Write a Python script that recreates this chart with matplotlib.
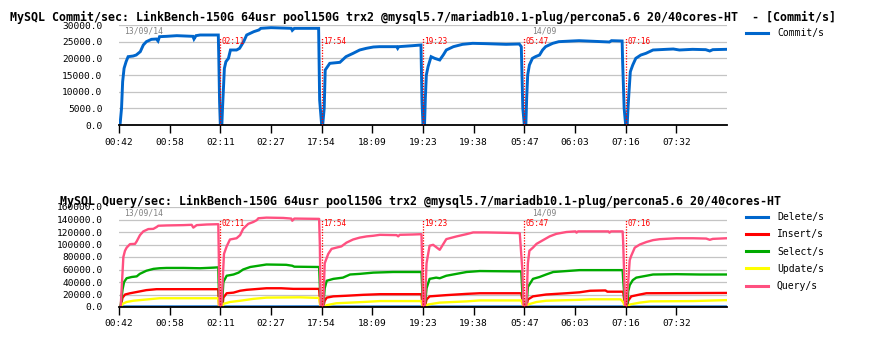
import matplotlib
matplotlib.use("Agg")
import matplotlib.pyplot as plt
import matplotlib.transforms as mtransforms
from matplotlib.ticker import FormatStrFormatter

plt.rcParams['font.family'] = ['DejaVu Sans Mono']

# x axis is made of 6 runs glued together, every run spans two tick slots
tick_labels = ["00:42", "00:58", "02:11", "02:27", "17:54", "18:09",
               "19:23", "19:38", "05:47", "06:03", "07:16", "07:32"]
run_labels = ["02:11", "17:54", "19:23", "05:47", "07:16"]
run_pos = [2, 4, 6, 8, 10]
date_labels = ["13/09/14", "14/09"]
date_pos = [0.1, 8.15]

title_top = ("MySQL Commit/sec: LinkBench-150G 64usr pool150G trx2 "
             "@mysql5.7/mariadb10.1-plug/percona5.6 20/40cores-HT  - [Commit/s]")
title_bot = ("MySQL Query/sec: LinkBench-150G 64usr pool150G trx2 "
             "@mysql5.7/mariadb10.1-plug/percona5.6 20/40cores-HT")

# Commit/s
commit_x = [0, 0.02, 0.05, 0.072, 0.10, 0.14, 0.18, 0.28, 0.34, 0.42, 0.48, 0.54, 0.64, 0.74,
            0.77, 0.80, 0.94, 1.14, 1.46, 1.48, 1.52, 1.60, 1.96, 1.97, 1.985,
            2.0, 2.03, 2.04, 2.08, 2.11, 2.16, 2.2, 2.32, 2.38, 2.46, 2.52, 2.66, 2.76, 2.8,
            3.0, 3.4, 3.42, 3.46, 3.94, 3.96,
            4.0, 4.02, 4.05, 4.07, 4.16, 4.36, 4.48, 4.62, 4.75, 4.88, 5.02, 5.14, 5.48, 5.50,
            5.52, 5.8, 5.96, 5.98,
            6.0, 6.03, 6.046, 6.066, 6.1, 6.16, 6.23, 6.33, 6.4, 6.46, 6.6, 6.78, 6.98, 7.25,
            7.64, 7.9, 7.94, 7.97,
            8.0, 8.03, 8.046, 8.066, 8.1, 8.16, 8.22, 8.3, 8.36, 8.42, 8.56, 8.68, 8.94, 9.08,
            9.68, 9.72, 9.93, 9.94, 9.97,
            10.0, 10.03, 10.046, 10.066, 10.092, 10.14, 10.2, 10.3, 10.4, 10.54, 10.8, 10.94,
            11.06, 11.32, 11.58, 11.66, 11.72, 11.98]
commit_y = [0, 0, 5000, 13000, 17000, 19000, 20500, 20700, 21000, 22000, 24000, 25000, 25700, 25800,
            25200, 26500, 26600, 26800, 26600, 25800, 26800, 27000, 27000, 20000, 7000,
            0, 0, 4000, 17000, 19000, 20000, 22500, 22500, 23000, 25000, 27000, 28000, 28500, 29000,
            29200, 29000, 28400, 29000, 29000, 7500,
            0, 0, 5000, 16500, 18500, 18800, 20500, 21500, 22500, 23000, 23400, 23500, 23500, 23000,
            23500, 23800, 24000, 7000,
            0, 0, 8000, 15000, 17500, 20500, 20000, 19500, 21000, 22500, 23500, 24200, 24500, 24400,
            24200, 24300, 23500, 5000,
            0, 0, 8000, 15000, 18000, 20000, 20500, 21000, 22500, 23500, 24500, 25000, 25200, 25300,
            24900, 25300, 25200, 19000, 5000,
            0, 0, 5000, 10000, 16000, 18000, 20000, 21000, 21500, 22500, 22700, 22800,
            22500, 22700, 22600, 22200, 22600, 22700]

# Query/s
query_x = [0, 0.033, 0.053, 0.086, 0.118, 0.151, 0.217, 0.316, 0.349, 0.414, 0.48, 0.579, 0.678,
           0.743, 0.776, 0.941, 1.27, 1.434, 1.467, 1.533, 1.73, 1.96, 1.974, 1.987,
           2.0, 2.02, 2.033, 2.072, 2.125, 2.19, 2.32, 2.39, 2.45, 2.55, 2.65, 2.72, 2.75, 2.91,
           3.24, 3.40, 3.42, 3.46, 3.95, 3.964, 3.98,
           4.0, 4.03, 4.06, 4.13, 4.195, 4.29, 4.39, 4.49, 4.62, 4.75, 4.89, 5.02, 5.15, 5.48,
           5.51, 5.54, 5.8, 5.97, 5.99,
           6.0, 6.035, 6.07, 6.13, 6.2, 6.33, 6.46, 6.66, 6.86, 6.99, 7.25, 7.65, 7.91, 7.96, 7.985,
           8.0, 8.04, 8.07, 8.1, 8.17, 8.24, 8.37, 8.5, 8.63, 8.83, 9.01, 9.03, 9.06, 9.66, 9.68,
           9.71, 9.94, 9.95, 9.99,
           10.0, 10.01, 10.05, 10.08, 10.11, 10.18, 10.28, 10.41, 10.54, 10.67, 11.0, 11.33, 11.59,
           11.66, 11.72, 11.99]
query_y = [0, 0, 30000, 80000, 90000, 95000, 100600, 101000, 105000, 115000, 121000, 124700, 125000,
           128000, 130000, 130500, 131000, 131500, 127000, 131000, 132000, 132500, 60000, 0,
           0, 0, 20000, 85000, 97000, 108000, 110000, 115000, 125000, 133000, 136000, 139000, 142000,
           143000, 142500, 141500, 138000, 141500, 141000, 100000, 0,
           0, 0, 70000, 85000, 93000, 95000, 97000, 103000, 108000, 111000, 113000, 114000, 115500,
           115000, 113000, 115500, 116000, 116500, 50000,
           0, 0, 70000, 98000, 99500, 91500, 108600, 112900, 116600, 119300, 119300, 118700, 118200,
           60000, 0,
           0, 0, 70000, 90000, 95000, 101000, 107000, 113000, 117000, 120000, 121000, 119000, 121000,
           121000, 119000, 121000, 121000, 105000, 0,
           0, 0, 40000, 75000, 82000, 95000, 100000, 104000, 107000, 108500, 110000, 110000, 109500,
           107500, 109000, 110000]

# Select/s
select_x = [0, 0.03, 0.07, 0.1, 0.15, 0.25, 0.35, 0.41, 0.54, 0.68, 0.8, 0.94, 1.27, 1.6, 1.87,
            1.96, 1.965, 1.98,
            2.0, 2.03, 2.06, 2.125, 2.26, 2.36, 2.45, 2.59, 2.75, 2.91, 3.3, 3.42, 3.46, 3.95,
            3.964, 3.98,
            4.0, 4.03, 4.06, 4.1, 4.23, 4.42, 4.56, 4.75, 5.02, 5.41, 5.97, 5.99,
            6.0, 6.035, 6.07, 6.13, 6.26, 6.33, 6.46, 6.66, 6.86, 7.12, 7.78, 7.94, 7.96, 7.985,
            8.0, 8.04, 8.07, 8.17, 8.3, 8.43, 8.57, 8.83, 9.09, 9.5, 9.94, 9.95, 9.99,
            10.0, 10.03, 10.05, 10.08, 10.14, 10.21, 10.41, 10.54, 11.0, 11.46, 11.99]
select_y = [0, 0, 28000, 40000, 46000, 48000, 49000, 53000, 58000, 61000, 62000, 62500, 62500, 62000,
            63000, 63500, 45000, 0,
            0, 0, 40000, 50000, 52000, 55000, 60000, 64000, 66000, 68000, 67500, 66000, 64500, 64000,
            35000, 0,
            0, 0, 30000, 42000, 45000, 47000, 52000, 53000, 55000, 56000, 56000, 20000,
            0, 0, 30000, 45000, 47000, 46000, 50000, 53000, 56000, 57500, 57000, 57000, 25000, 0,
            0, 0, 32000, 45000, 48000, 52000, 56000, 57500, 59000, 59000, 59000, 45000, 0,
            0, 0, 25000, 35000, 43000, 47000, 50000, 52000, 52500, 52000, 52000]

# Insert/s
insert_x = [0, 0.03, 0.07, 0.12, 0.22, 0.35, 0.54, 0.74, 1.96, 1.975,
            2.0, 2.04, 2.06, 2.125, 2.26, 2.39, 2.52, 2.91, 3.2, 3.44, 3.95, 3.975,
            4.0, 4.03, 4.06, 4.1, 4.23, 4.49, 4.82, 5.15, 5.97, 5.99,
            6.0, 6.035, 6.07, 6.13, 6.46, 6.86, 7.12, 7.94, 7.985,
            8.0, 8.04, 8.07, 8.17, 8.43, 8.83, 9.09, 9.3, 9.6, 9.64, 9.95, 9.99,
            10.0, 10.03, 10.05, 10.11, 10.28, 10.41, 11.99]
insert_y = [0, 0, 15000, 20000, 22000, 24000, 27000, 28500, 28500, 0,
            0, 0, 15000, 22000, 23000, 26000, 27500, 30000, 30000, 29000, 29000, 0,
            0, 0, 10000, 15000, 17000, 18000, 19500, 20500, 20500, 0,
            0, 0, 12000, 17000, 19000, 21000, 22000, 22000, 0,
            0, 0, 12000, 17000, 20000, 22000, 23500, 26000, 26500, 24500, 24500, 0,
            0, 0, 10000, 17000, 20000, 22000, 22500]

# Update/s
update_x = [0, 0.04, 0.07, 0.15, 0.28, 0.54, 0.8, 1.96, 1.975,
            2.0, 2.04, 2.06, 2.19, 2.39, 2.65, 2.91, 3.57, 3.95, 3.975,
            4.0, 4.05, 4.1, 4.29, 4.56, 4.82, 5.15, 5.97, 5.99,
            6.0, 6.04, 6.1, 6.33, 6.86, 7.12, 7.94, 7.985,
            8.0, 8.04, 8.07, 8.24, 8.43, 9.09, 9.3, 9.9, 9.95, 9.99,
            10.0, 10.05, 10.08, 10.28, 10.48, 11.33, 11.99]
update_y = [0, 0, 5000, 8000, 10000, 12000, 14000, 14000, 0,
            0, 0, 5000, 8000, 10000, 13000, 15000, 15500, 14500, 0,
            0, 0, 3000, 6000, 7000, 8000, 9500, 9500, 0,
            0, 0, 4000, 7000, 9000, 10500, 10500, 0,
            0, 0, 4000, 8000, 10000, 11500, 12300, 12300, 8000, 0,
            0, 0, 4000, 7000, 9000, 9500, 11000]

# Delete/s (sits almost on zero)
delete_x = [0, 0.05, 1.97, 2.0, 2.05, 3.97, 4.0, 4.05, 5.98, 6.0, 6.05, 7.98,
            8.0, 8.05, 9.98, 10.0, 10.05, 11.99]
delete_y = [0, 700, 800, 0, 700, 800, 0, 600, 700, 0, 600, 700,
            0, 600, 700, 0, 600, 700]

blue = '#0066cc'
W, H = 871, 345


def style_axes(ax, ymax, ystep):
    ax.set_xlim(0, 12)
    ax.set_ylim(0, ymax)
    ax.set_yticks(range(0, ymax + 1, ystep))
    ax.yaxis.set_major_formatter(FormatStrFormatter('%.1f'))
    ax.set_xticks(range(12))
    ax.set_xticklabels(tick_labels)
    ax.grid(axis='y', color='#c4c4c4', lw=0.9)
    ax.set_axisbelow(True)
    for s in ['top', 'right', 'left']:
        ax.spines[s].set_visible(False)
    ax.spines['bottom'].set_linewidth(1.3)
    ax.tick_params(axis='y', length=0, pad=12, labelsize=6.8)
    ax.tick_params(axis='x', length=6, width=1, direction='out', pad=3, labelsize=6.8)

    # red dotted markers where each run begins
    trans = mtransforms.blended_transform_factory(ax.transData, ax.transAxes)
    for p, lab in zip(run_pos, run_labels):
        ax.plot([p, p], [0, 0.88], transform=trans, color='red', ls=(0, (1, 1.2)),
                lw=0.9, zorder=6)
        ax.text(p + 0.03, 0.84, lab, transform=trans, color='red', fontsize=5.6,
                va='center', ha='left', zorder=7)
    for p, lab in zip(date_pos, date_labels):
        ax.text(p, 0.945, lab, transform=trans, color='#808080', fontsize=5.8,
                va='center', ha='left')


fig = plt.figure(figsize=(W / 100, H / 100), dpi=100)
ax1 = fig.add_axes([119 / W, 1 - 125 / H, 608 / W, 100 / H])
ax2 = fig.add_axes([119 / W, 1 - 307 / H, 608 / W, 100 / H])

style_axes(ax1, 30000, 5000)
style_axes(ax2, 160000, 20000)

ax1.plot(commit_x, commit_y, color=blue, lw=2.1, label='Commit/s', solid_joinstyle='miter')

ax2.plot(delete_x, delete_y, color=blue, lw=1.7, label='Delete/s')
ax2.plot(insert_x, insert_y, color='#ff0000', lw=1.7, label='Insert/s')
ax2.plot(select_x, select_y, color='#00aa00', lw=1.7, label='Select/s')
ax2.plot(update_x, update_y, color='#ffff00', lw=1.7, label='Update/s')
ax2.plot(query_x, query_y, color='#ff5080', lw=1.7, label='Query/s')

leg_kw = dict(loc='upper left', frameon=False, fontsize=7, borderpad=0, borderaxespad=0,
              handlelength=2.3, handletextpad=0.9)
leg1 = ax1.legend(bbox_to_anchor=(1.031, 0.97), **leg_kw)
leg2 = ax2.legend(bbox_to_anchor=(1.031, 0.95), labelspacing=0.75, **leg_kw)
for leg in (leg1, leg2):
    for line in leg.get_lines():
        line.set_linewidth(2.2)

fig.text(10 / W, 1 - 17 / H, title_top, fontsize=8.35, fontweight='bold', va='center')
fig.text(60 / W, 1 - 201 / H, title_bot, fontsize=8.35, fontweight='bold', va='center')

fig.savefig('out.png', dpi=100)
